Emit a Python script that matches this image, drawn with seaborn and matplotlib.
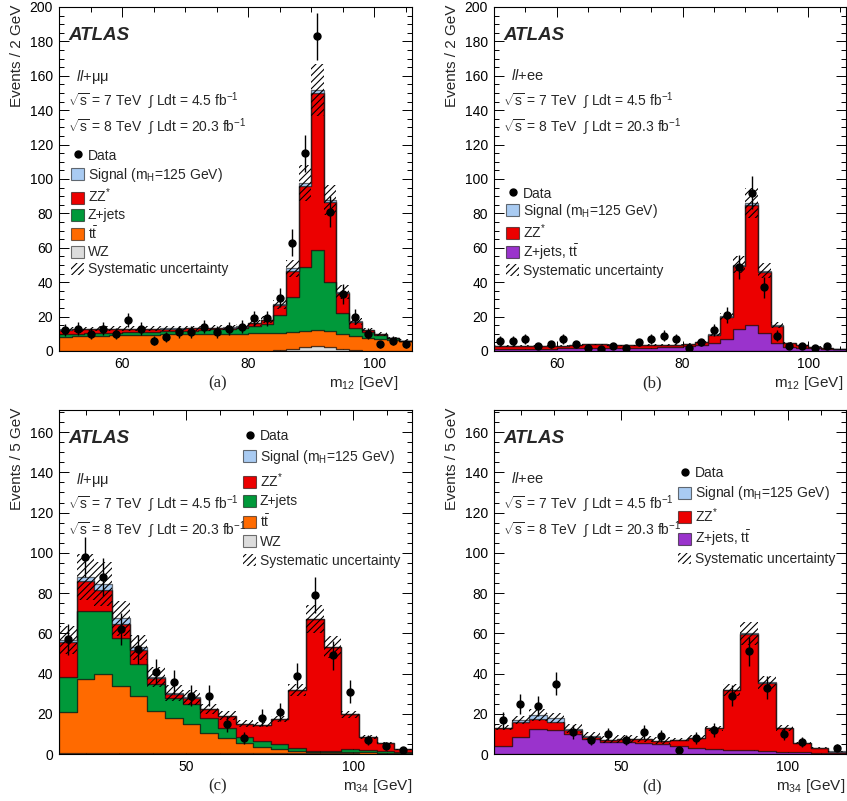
import numpy as np
import pandas as pd
import matplotlib
matplotlib.use("Agg")
import matplotlib.pyplot as plt
import seaborn as sns
from matplotlib.patches import Patch
from matplotlib.lines import Line2D
from matplotlib.ticker import MultipleLocator

sns.set_theme(style="ticks")
plt.rcParams["font.family"] = ["Liberation Sans", "DejaVu Sans"]
plt.rcParams["mathtext.fontset"] = "custom"
plt.rcParams["mathtext.rm"] = "Liberation Sans"
plt.rcParams["mathtext.it"] = "Liberation Sans:italic"
plt.rcParams["mathtext.bf"] = "Liberation Sans:bold"
plt.rcParams["hatch.linewidth"] = 0.8
plt.rcParams["axes.linewidth"] = 0.8

# ---------------- binning ----------------
m12_range, m12_nbins = (50.0, 106.0), 28      # 2 GeV bins
m34_range, m34_nbins = (12.0, 117.5), 20

# ---------------- panel (a): ll+mumu, m12 ----------------
data_a = [12, 13, 10, 13, 10, 18, 13, 6, 8, 11, 11, 14, 11, 13, 14, 19, 19, 31, 63, 115, 183, 81, 33, 20, 10, 4, 6, 4]
wz_a = [0, 0, 0, 0, 0, 0, 0, 0, 0, 0, 0, 0, 0, 0, 0, 0, 0.2, 0.5, 1.2, 2.2, 3.0, 2.2, 1.0, 0.3, 0.1, 0, 0, 0]
tt_a = [8.0, 8.5, 8.8, 9.0, 9.2, 9.3, 9.5, 9.5, 9.7, 9.8, 9.8, 10.0, 10.0, 10.0, 10.0, 10.2, 10.1, 10.1, 10.0, 9.2, 9.2, 9.3, 8.9, 8.3, 7.7, 7.2, 6.5, 5.6]
zjets_a = [1.6, 1.5, 1.5, 1.5, 1.5, 1.5, 1.5, 1.6, 1.7, 1.8, 2.0, 2.2, 2.6, 3.0, 3.6, 4.3, 5.4, 10.3, 20.2, 37.4, 46.5, 28.5, 12.1, 4.7, 3.4, 2.1, 0.8, 0.3]
zz_a = [2.8, 2.6, 2.4, 2.3, 2.1, 2.1, 1.9, 1.8, 1.6, 1.4, 1.3, 1.0, 0.8, 0.6, 0.6, 1.8, 2.3, 5.8, 15.3, 47.2, 91.3, 46.8, 11.7, 3.7, 1.0, 0.6, 0.3, 0.1]
sig_a = [0.1] * 15 + [0.2, 0.3, 0.5, 1.3, 1.5, 1.8, 1.0, 0.4, 0.2, 0.1, 0.1, 0.1, 0.1]
sys_a = [1.4] * 11 + [1.5, 1.5, 1.5, 1.6, 1.7, 2.0, 2.5, 5.0, 10.5, 15.3, 9.0, 4.0, 2.0, 1.2, 1.0, 0.7, 0.6]

# ---------------- panel (b): ll+ee, m12 ----------------
data_b = [6, 6, 7, 3, 4, 7, 4, 2, 1, 3, 2, 5, 7, 9, 7, 2, 5, 12, 21, 49, 92, 37, 9, 3, 3, 2, 3, 0]
zjtt_b = [1.3, 1.3, 1.4, 1.4, 1.4, 1.5, 1.5, 1.6, 1.7, 1.7, 1.8, 1.9, 2.0, 2.2, 2.5, 3.1, 3.5, 4.5, 6.8, 12.6, 14.9, 10.3, 4.8, 2.5, 2.0, 1.5, 1.2, 1.0]
zz_b = [1.5, 1.6, 1.6, 1.6, 1.7, 1.6, 1.7, 2.2, 2.1, 1.8, 1.5, 1.4, 1.4, 1.3, 1.2, 0.8, 1.7, 4.8, 12.8, 36.8, 70.0, 35.8, 9.9, 2.3, 1.5, 1.0, 0.4, 0.2]
sig_b = [0.05] * 15 + [0.1, 0.2, 0.3, 0.5, 0.8, 1.2, 0.6, 0.3, 0.1, 0.05, 0.05, 0.05, 0.05]
sys_b = [0.4] * 15 + [0.5, 0.6, 0.9, 2.2, 4.8, 8.5, 4.5, 1.8, 0.6, 0.4, 0.3, 0.2, 0.2]

# ---------------- panel (c): ll+mumu, m34 ----------------
data_c = [57, 98, 88, 62, 52, 41, 36, 29, 29, 15, 8, 18, 21, 39, 79, 49, 31, 7, 4, 2]
wz_c = [0.5, 0.6, 0.7, 0.7, 0.7, 0.7, 0.7, 0.6, 0.6, 0.5, 0.4, 0.3, 0.3, 0.3, 0.3, 0.3, 0.3, 0.2, 0.2, 0.1]
tt_c = [20.5, 36.7, 38.9, 33.3, 28.3, 20.9, 17.0, 14.1, 9.9, 7.7, 4.9, 3.3, 2.2, 1.4, 0.9, 0.9, 0.6, 0.6, 0.5, 0.3]
zjets_c = [17.4, 33.9, 31.6, 23.9, 15.7, 13.2, 9.9, 10.3, 7.5, 4.8, 3.2, 2.7, 2.5, 1.3, 0.3, 0.2, 1.5, 1.2, 0.7, 0.4]
zz_c = [17.4, 14.8, 10.3, 6.5, 7.0, 2.8, 2.2, 3.0, 4.2, 5.9, 6.4, 8.1, 12.4, 28.6, 65.5, 51.6, 17.3, 6.3, 3.9, 1.5]
sig_c = [0.8, 2.0, 2.9, 3.0, 1.3, 0.5, 0.3, 0.2, 0.2, 0.2, 0.1, 0.1, 0.1, 0.2, 0.3, 0.2, 0.1, 0.1, 0.05, 0.05]
sys_c = [7.0, 11.2, 11.0, 8.8, 6.1, 5.0, 4.0, 3.8, 2.5, 2.1, 1.7, 1.3, 1.6, 3.0, 7.0, 5.3, 1.7, 0.8, 0.5, 0.3]

# ---------------- panel (d): ll+ee, m34 ----------------
data_d = [17, 25, 24, 35, 11, 7, 10, 7, 11, 9, 2, 8, 12, 29, 51, 33, 10, 6, 0, 3]
zjtt_d = [4.1, 8.6, 12.2, 12.0, 9.8, 7.4, 6.1, 6.0, 5.6, 5.0, 4.0, 2.8, 2.3, 2.0, 1.8, 1.5, 1.2, 1.0, 0.7, 0.5]
zz_d = [8.6, 7.1, 5.2, 3.7, 2.1, 1.2, 0.9, 1.3, 1.7, 1.6, 3.0, 5.3, 10.4, 29.8, 57.8, 33.9, 11.5, 4.6, 2.4, 0.7]
sig_d = [0.4, 1.2, 1.8, 2.0, 0.7, 0.2, 0.1, 0.1, 0.1, 0.1, 0.1, 0.1, 0.1, 0.2, 0.3, 0.2, 0.1, 0.05, 0.05, 0.05]
sys_d = [1.4, 2.0, 3.0, 2.5, 2.1, 2.0, 1.6, 1.8, 1.6, 1.7, 0.8, 1.0, 1.3, 3.0, 5.6, 3.3, 1.4, 0.5, 0.3, 0.2]

# ---------------- labels / colours ----------------
LBL_SIG = "Signal (m$_{\\mathrm{H}}$=125 GeV)"
LBL_ZZ = "ZZ$^{*}$"
LBL_ZJ = "Z+jets"
LBL_TT = "t$\\bar{\\mathrm{t}}$"
LBL_WZ = "WZ"
LBL_ZJTT = "Z+jets, t$\\bar{\\mathrm{t}}$"
LBL_SYS = "Systematic uncertainty"

COL = {
    "sig": "#a9cbf2",
    "zz": "#ec0000",
    "zj": "#00993a",
    "tt": "#ff6a00",
    "wz": "#dcdcdc",
    "zjtt": "#9a33cc",
}
EDGE = (0, 0, 0, 0.55)


def draw_panel(ax, xrange_, nbins, stack, data, sys, ylim, ymaj, xmaj, xmin_, channel,
               xlabel, ylabel, tag, xlab_x, leg_anchor, leg_spacing):
    edges = np.linspace(xrange_[0], xrange_[1], nbins + 1)
    centers = 0.5 * (edges[:-1] + edges[1:])
    widths = np.diff(edges)
    names = [s[0] for s in stack]          # top of stack first
    rows = []
    for name, vals, _ in stack:
        for c, w in zip(centers, vals):
            rows.append((float(c), float(w), name))
    df = pd.DataFrame(rows, columns=["x", "w", "proc"])
    pal = {name: col for name, _, col in stack}
    sns.histplot(data=df, x="x", weights="w", hue="proc", hue_order=names,
                 multiple="stack", bins=nbins, binrange=xrange_, element="step",
                 fill=True, palette=pal, alpha=1, linewidth=0.9, edgecolor=EDGE,
                 legend=False, ax=ax)

    total = np.sum([np.asarray(v, float) for _, v, _ in stack], axis=0)
    sys = np.asarray(sys, float)
    ax.bar(centers, 2 * sys, bottom=total - sys, width=widths, fill=False,
           hatch="/////", edgecolor="black", linewidth=0, zorder=3)

    d = np.asarray(data, float)
    m = d > 0
    ax.errorbar(centers[m], d[m], yerr=np.sqrt(d[m]), fmt="o", color="black",
                ms=5, elinewidth=1.0, capsize=0, zorder=5)

    ax.set_xlim(edges[0], edges[-1])
    ax.set_ylim(*ylim)
    ax.set_xlabel("")
    ax.set_ylabel("")
    ax.xaxis.set_major_locator(MultipleLocator(xmaj))
    ax.xaxis.set_minor_locator(MultipleLocator(xmin_))
    ax.yaxis.set_major_locator(MultipleLocator(ymaj))
    ax.yaxis.set_minor_locator(MultipleLocator(5))
    ax.tick_params(which="both", direction="in", top=True, right=True,
                   width=0.7, labelsize=10, colors="black")
    ax.tick_params(which="major", length=7.5, pad=4.5)
    ax.tick_params(which="minor", length=3.6)
    for sp in ax.spines.values():
        sp.set_color("black")
        sp.set_linewidth(0.8)

    tr = ax.transAxes
    ax.text(0.026, 0.942, "ATLAS", transform=tr, fontsize=13.5,
            fontweight="bold", fontstyle="italic", va="top", ha="left")
    ax.text(0.048, 0.823, channel, transform=tr, fontsize=10.5, va="top", ha="left")
    ax.text(0.026, 0.756,
            "$\\sqrt{\\mathrm{s}}$ = 7 TeV  $\\int$ Ldt = 4.5 fb$^{\\mathrm{-1}}$",
            transform=tr, fontsize=10, va="top", ha="left")
    ax.text(0.026, 0.680,
            "$\\sqrt{\\mathrm{s}}$ = 8 TeV  $\\int$ Ldt = 20.3 fb$^{\\mathrm{-1}}$",
            transform=tr, fontsize=10, va="top", ha="left")

    ax.text(xlab_x, -0.068, xlabel, transform=tr, fontsize=11, ha="right", va="top")
    ax.text(-0.119, 1.006, ylabel, transform=tr, fontsize=11, rotation=90,
            ha="center", va="top")
    ax.text(0.45, -0.095, tag, transform=tr, fontsize=12,
            family=["Liberation Serif", "DejaVu Serif"], ha="center", va="center")

    handles = [Line2D([], [], marker="o", color="black", ls="none", ms=5)]
    labels = ["Data"]
    for name, _, col in stack:
        handles.append(Patch(facecolor=col, edgecolor=EDGE, linewidth=0.8))
        labels.append(name)
    handles.append(Patch(facecolor="none", edgecolor="black", hatch="/////", linewidth=0))
    labels.append(LBL_SYS)
    ax.legend(handles, labels, loc="upper left", bbox_to_anchor=leg_anchor,
              frameon=False, borderpad=0, borderaxespad=0, fontsize=10,
              handlelength=0.95, handleheight=0.95, handletextpad=0.25,
              labelspacing=leg_spacing)


fig = plt.figure(figsize=(8.47, 8.01), dpi=100)
fig.patch.set_facecolor("white")
W, H = 847, 801
axA = fig.add_axes([59 / W, 1 - 351 / H, 353 / W, 344 / H])
axB = fig.add_axes([494 / W, 1 - 351 / H, 352 / W, 344 / H])
axC = fig.add_axes([59 / W, 1 - 754 / H, 353 / W, 344 / H])
axD = fig.add_axes([494 / W, 1 - 754 / H, 352 / W, 344 / H])

CH_MM = "$\\mathit{ll}$+μμ"
CH_EE = "$\\mathit{ll}$+ee"

draw_panel(axA, m12_range, m12_nbins,
           [(LBL_SIG, sig_a, COL["sig"]), (LBL_ZZ, zz_a, COL["zz"]),
            (LBL_ZJ, zjets_a, COL["zj"]), (LBL_TT, tt_a, COL["tt"]),
            (LBL_WZ, wz_a, COL["wz"])],
           data_a, sys_a, (0, 200), 20, 20, 5, CH_MM,
           "m$_{12}$ [GeV]", "Events / 2 GeV", "(a)", 0.962,
           (0.034, 0.588), 0.22)

draw_panel(axB, m12_range, m12_nbins,
           [(LBL_SIG, sig_b, COL["sig"]), (LBL_ZZ, zz_b, COL["zz"]),
            (LBL_ZJTT, zjtt_b, COL["zjtt"])],
           data_b, sys_b, (0, 200), 20, 20, 5, CH_EE,
           "m$_{12}$ [GeV]", "Events / 2 GeV", "(b)", 0.993,
           (0.034, 0.478), 0.12)

draw_panel(axC, m34_range, m34_nbins,
           [(LBL_SIG, sig_c, COL["sig"]), (LBL_ZZ, zz_c, COL["zz"]),
            (LBL_ZJ, zjets_c, COL["zj"]), (LBL_TT, tt_c, COL["tt"]),
            (LBL_WZ, wz_c, COL["wz"])],
           data_c, sys_c, (0, 171), 20, 50, 10, CH_MM,
           "m$_{34}$ [GeV]", "Events / 5 GeV", "(c)", 1.0,
           (0.521, 0.944), 0.35)

draw_panel(axD, m34_range, m34_nbins,
           [(LBL_SIG, sig_d, COL["sig"]), (LBL_ZZ, zz_d, COL["zz"]),
            (LBL_ZJTT, zjtt_d, COL["zjtt"])],
           data_d, sys_d, (0, 171), 20, 50, 10, CH_EE,
           "m$_{34}$ [GeV]", "Events / 5 GeV", "(d)", 0.997,
           (0.523, 0.836), 0.28)

fig.savefig("out.png", dpi=100, facecolor="white")
